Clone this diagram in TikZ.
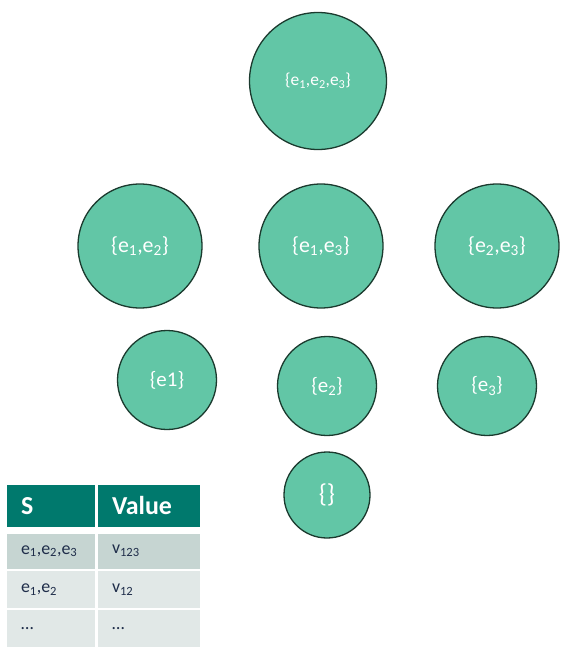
\documentclass[tikz,border=0pt]{standalone}
\usepackage{fontspec}
\setmainfont{Carlito}
\definecolor{setgreen}{HTML}{62C6A6}
\definecolor{setedge}{HTML}{1B3A2E}
\definecolor{headteal}{HTML}{00796D}
\definecolor{rowdark}{HTML}{C6D5D2}
\definecolor{rowlight}{HTML}{E1E8E7}
\definecolor{cellink}{HTML}{1F2D4A}
\newcommand{\el}[1]{e\textsubscript{#1}}
\tikzset{
    subset/.style={circle, draw=setedge, line width=1.3bp, fill=setgreen,
        text=white, inner sep=0pt, font=\fontsize{22}{24}\selectfont},
    cell/.style={rectangle, inner xsep=14bp, inner ysep=0pt, align=left,
        text=cellink, font=\fontsize{18}{20}\selectfont},
    headcell/.style={cell, fill=headteal, text=white, minimum height=42bp,
        font=\fontsize{26}{28}\selectfont\bfseries},
}

\begin{document}
\begin{tikzpicture}[x=1bp, y=-1bp]
    \useasboundingbox (0,0) rectangle (577,654);

    % Lattice of subsets
    \node[subset, minimum size=137bp, font=\fontsize{17.5}{20}\selectfont] (s123) at (318,81) {\{\el{1},\el{2},\el{3}\}};

    \node[subset, minimum size=124bp] (s12) at (140,246) {\{\el{1},\el{2}\}};
    \node[subset, minimum size=124bp] (s13) at (321,246) {\{\el{1},\el{3}\}};
    \node[subset, minimum size=124bp] (s23) at (497,246) {\{\el{2},\el{3}\}};

    \node[subset, minimum size=99bp, font=\fontsize{21}{24}\selectfont] (s1) at (167,380) {\{e1\}};
    \node[subset, minimum size=99bp, font=\fontsize{21}{24}\selectfont] (s2) at (327,386) {\{\el{2}\}};
    \node[subset, minimum size=99bp, font=\fontsize{21}{24}\selectfont] (s3) at (487,386) {\{\el{3}\}};

    \node[subset, minimum size=86bp, font=\fontsize{26}{28}\selectfont] (s0) at (327,495) {\{\}};

    % Value table
    \node[headcell, text width=60bp] (hS) at (51,506) {S};
    \node[headcell, text width=74bp] (hV) at (149,506) {Value};

    \node[cell, fill=rowdark, text width=60bp, minimum height=35bp] (r1S) at (51,551) {\el{1},\el{2},\el{3}};
    \node[cell, fill=rowdark, text width=74bp, minimum height=35bp] (r1V) at (149,551) {v\textsubscript{123}};

    \node[cell, fill=rowlight, text width=60bp, minimum height=37bp] (r2S) at (51,589.5) {\el{1},\el{2}};
    \node[cell, fill=rowlight, text width=74bp, minimum height=37bp] (r2V) at (149,589.5) {v\textsubscript{12}};

    \node[cell, fill=rowlight, text width=60bp, minimum height=37bp] (r3S) at (51,628.5) {\dots};
    \node[cell, fill=rowlight, text width=74bp, minimum height=37bp] (r3V) at (149,628.5) {\dots};
\end{tikzpicture}
\end{document}
